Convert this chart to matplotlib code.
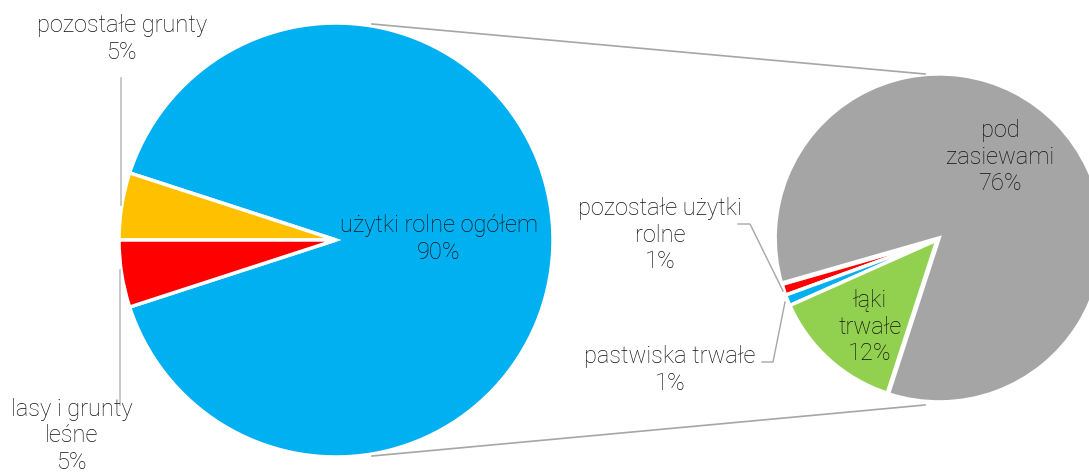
import matplotlib
matplotlib.use("Agg")
import matplotlib.pyplot as plt

# dane
main_labels = ["użytki rolne ogółem", "pozostałe grunty", "lasy i grunty leśne"]
main_values = [90, 5, 5]
main_colors = ["#00B0F0", "#FFC000", "#FF0000"]

sub_labels = ["pod zasiewami", "pozostałe użytki rolne", "pastwiska trwałe", "łąki trwałe"]
sub_values = [76, 1, 1, 12]
sub_colors = ["#A5A5A5", "#FF0000", "#00B0F0", "#92D050"]

plt.rcParams['font.family'] = ['Roboto', 'DejaVu Sans']

W, H = 1089, 474
fig = plt.figure(figsize=(W / 100, H / 100), dpi=100)
ax = fig.add_axes([0, 0, 1, 1])
ax.set_xlim(0, W)
ax.set_ylim(0, H)
ax.set_aspect('equal')
ax.axis('off')

def py(y):
    return H - y

# lewy wykres
ax.pie(main_values, colors=main_colors, startangle=198, counterclock=True,
       center=(336, py(240)), radius=217,
       wedgeprops=dict(edgecolor='white', linewidth=2.5))

# prawy wykres
wedges, _ = ax.pie(sub_values, colors=sub_colors, startangle=252, counterclock=True,
                   center=(937, py(240)), radius=161, explode=[3, 0, 0, 0],
                   wedgeprops=dict(edgecolor='white', linewidth=2.5))
wedges[0].set_radius(164)
ax.set_xlim(0, W)
ax.set_ylim(0, H)

# linie laczace
lc = '#A6A6A6'
ax.plot([372, 925], [py(24), py(74)], color=lc, lw=1.2)
ax.plot([372, 925], [py(456), py(405)], color=lc, lw=1.2)

# linie odniesienia
ax.plot([121, 121], [py(78), py(205)], color='#BFBFBF', lw=1.2)
ax.plot([120, 120], [py(270), py(405)], color='#BFBFBF', lw=1.2)
ax.plot([738, 750, 783], [py(224), py(224), py(291)], color='#A6A6A6', lw=1)
ax.plot([762, 773, 785], [py(362), py(362), py(302)], color='#A6A6A6', lw=1)

fs = 17
tk = dict(ha='center', va='center', fontsize=fs, fontweight='light',
          color='#111111', linespacing=1.22)

def pct(v):
    return f"{v}%"

ax.text(439, py(239), f"{main_labels[0]}\n{pct(main_values[0])}", **tk)
ax.text(122, py(39), f"{main_labels[1]}\n{pct(main_values[1])}", **tk)
ax.text(72, py(436), "lasy i grunty\nleśne\n" + pct(main_values[2]), **tk)

ax.text(1000, py(157), "pod\nzasiewami\n" + pct(sub_values[0]), **tk)
ax.text(870, py(327), "łąki\ntrwałe\n" + pct(sub_values[3]), **tk)
ax.text(660, py(235), "pozostałe użytki\nrolne\n" + pct(sub_values[1]), **tk)
ax.text(670, py(370), f"{sub_labels[2]}\n{pct(sub_values[2])}", **tk)

fig.savefig("out.png", dpi=100)
